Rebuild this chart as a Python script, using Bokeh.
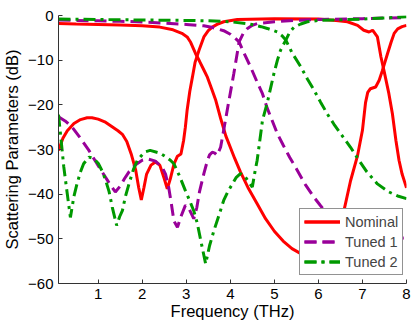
from bokeh.plotting import figure
from bokeh.models import Range1d, FixedTicker, Legend, LegendItem
from bokeh.embed import file_html
from bokeh.resources import INLINE

# ---------------- data ----------------
nom_a_f = [0.1, 0.5, 1.0, 1.5, 2.0, 2.4, 2.7, 2.9, 3.02, 3.1, 3.21, 3.3, 3.4, 3.48, 3.58, 3.67,
           3.78, 3.9, 4.0, 4.1, 4.23, 4.4, 4.6, 4.8, 5.0, 5.2, 5.4, 5.6, 5.8, 6.0, 6.2, 6.4,
           6.58, 6.73, 6.89, 7.0, 7.07, 7.12, 7.18, 7.3, 7.38, 7.45, 7.57, 7.65, 7.72, 7.8, 7.9, 8.0]
nom_a_db = [-1.8, -1.9, -2.0, -2.1, -2.3, -2.6, -3.2, -4.0, -4.8, -6.0, -8.5, -10.2, -12.2, -13.8, -16.5, -19.0,
            -23.0, -27.0, -29.5, -32.0, -35.0, -38.5, -42.0, -45.5, -48.3, -50.5, -52.2, -53.3, -54.0, -53.5, -51.5, -48.5,
            -43.7, -37.0, -31.3, -25.7, -19.5, -17.2, -16.4, -16.0, -14.5, -12.4, -8.5, -6.0, -4.0, -3.0, -2.5, -2.2]

nom_b_f = [0.1, 0.2, 0.3, 0.45, 0.6, 0.75, 0.86, 1.0, 1.15, 1.3, 1.45, 1.55, 1.65, 1.75, 1.85, 1.92,
           1.98, 2.04, 2.1, 2.2, 2.3, 2.4, 2.5, 2.57, 2.64, 2.72, 2.8, 2.88, 2.94, 2.98, 3.02, 3.08,
           3.14, 3.2, 3.29, 3.4, 3.5, 3.59, 3.7, 3.85, 4.16, 5.0, 6.0, 6.4, 6.66, 6.89, 7.03, 7.15,
           7.23, 7.34, 7.42, 7.49, 7.6, 7.68, 7.76, 7.83, 7.9, 8.0]
nom_b_db = [-30.2, -27.5, -25.8, -24.2, -23.3, -22.9, -22.9, -23.2, -23.8, -24.8, -25.8, -26.6, -28.2, -31.0, -34.5, -38.5,
            -41.3, -38.5, -35.5, -33.5, -32.8, -33.5, -36.5, -38.8, -36.5, -33.3, -31.5, -31.0, -28.0, -25.0, -21.2, -17.0,
            -13.8, -10.5, -7.8, -4.8, -3.4, -2.6, -2.0, -1.4, -0.9, -0.7, -0.8, -1.1, -1.4, -2.2, -3.3, -3.7,
            -3.3, -4.8, -9.3, -12.4, -17.5, -22.0, -28.0, -32.4, -35.5, -38.6]

t1_a_f = [0.1, 0.5, 1.0, 1.5, 2.0, 2.64, 3.0, 3.4, 3.6, 3.85, 4.0, 4.1, 4.2, 4.3, 4.46, 4.6,
          4.73, 4.84, 4.95, 5.07, 5.2, 5.35, 5.5, 5.7, 5.9, 6.05, 6.2, 6.5, 6.8, 7.1, 7.5, 7.8, 8.0]
t1_a_db = [-1.0, -1.1, -1.2, -1.3, -1.45, -1.8, -2.0, -2.3, -2.7, -3.4, -4.2, -5.0, -5.9, -8.2, -11.5, -14.7,
           -17.5, -20.8, -23.5, -26.5, -29.0, -31.8, -34.3, -37.8, -40.7, -42.6, -44.4, -46.8, -48.3, -49.2, -49.7, -49.9, -49.8]

t1_b_f = [0.1, 0.25, 0.41, 0.6, 0.79, 0.95, 1.09, 1.25, 1.39, 1.5, 1.6, 1.7, 1.85, 2.0, 2.12, 2.3,
          2.45, 2.53, 2.6, 2.66, 2.72, 2.8, 2.88, 2.98, 3.06, 3.17, 3.24, 3.3, 3.4, 3.48, 3.53,
          3.59, 3.65, 3.7, 3.78, 3.85, 3.93, 3.97, 4.08, 4.2, 4.3, 4.39, 4.5, 4.61, 5.0, 5.5, 6.0, 7.0, 8.0]
t1_b_db = [-22.7, -23.6, -25.0, -27.5, -30.2, -32.8, -35.0, -37.5, -39.5, -38.2, -36.5, -35.0, -33.4, -32.4, -32.1, -32.6,
           -33.9, -35.5, -38.4, -42.0, -46.0, -47.4, -45.0, -42.5, -43.2, -45.5, -43.0, -39.5, -35.4, -32.5, -31.2,
           -30.6, -30.8, -31.3, -29.5, -25.7, -21.2, -19.0, -13.0, -5.9, -3.9, -2.9, -2.2, -1.8, -1.4, -1.1, -0.9, -0.7, -0.45]

t2_a_f = [0.1, 1.0, 2.0, 3.0, 3.5, 4.0, 4.46, 4.7, 4.84, 5.07, 5.17, 5.26, 5.4, 5.6, 5.75, 5.9,
          6.05, 6.2, 6.35, 6.51, 6.73, 6.92, 7.1, 7.34, 7.6, 7.8, 8.0]
t2_a_db = [-0.8, -0.9, -1.0, -1.1, -1.2, -1.4, -1.95, -2.5, -2.9, -3.7, -4.5, -5.5, -8.3, -11.5, -14.2, -16.7,
           -19.4, -22.0, -24.3, -26.5, -29.5, -32.4, -35.0, -37.7, -39.5, -40.4, -41.0]

t2_b_f = [0.1, 0.15, 0.22, 0.3, 0.37, 0.45, 0.52, 0.6, 0.67, 0.79, 0.9, 1.01, 1.1, 1.17, 1.25, 1.32,
          1.42, 1.49, 1.55, 1.62, 1.7, 1.8, 1.89, 2.05, 2.18, 2.4, 2.53, 2.64, 2.72, 2.85, 2.98, 3.08,
          3.17, 3.25, 3.33, 3.44, 3.53, 3.63, 3.74, 3.85, 3.95, 4.05, 4.13, 4.23, 4.33, 4.42, 4.5, 4.56,
          4.61, 4.67, 4.73, 4.84, 4.99, 5.07, 5.14, 5.26, 5.35, 5.45, 5.6, 5.75, 6.0, 7.0, 8.0]
t2_b_db = [-22.2, -27.0, -33.9, -40.0, -45.2, -40.5, -37.7, -35.0, -33.2, -31.7, -32.0, -33.2, -35.0, -36.9, -39.5, -42.9,
           -47.0, -45.0, -43.7, -40.5, -37.7, -34.5, -32.4, -30.6, -30.2, -30.8, -31.6, -32.4, -33.2, -36.0, -39.2, -41.5,
           -43.7, -46.5, -50.4, -55.6, -51.5, -48.1, -44.8, -41.4, -39.3, -37.7, -36.3, -35.4, -36.0, -37.3, -38.4, -35.0,
           -32.4, -28.0, -23.5, -19.5, -13.0, -10.0, -7.8, -5.5, -3.7, -2.6, -1.9, -1.4, -1.1, -0.8, -0.3]

series_names = ["Nominal", "Tuned 1", "Tuned 2"]
x_ticks = [1, 2, 3, 4, 5, 6, 7, 8]
y_ticks = [-60, -50, -40, -30, -20, -10, 0]
y_tick_labels = ["\u221260", "\u221250", "\u221240", "\u221230", "\u221220", "\u221210", "0"]

FONT = "Liberation Sans"

p = figure(width=415, height=324, output_backend="svg", toolbar_location=None,
           x_range=Range1d(0.1, 8), y_range=Range1d(-60, 0),
           min_border_left=58, min_border_right=9, min_border_top=15, min_border_bottom=41,
           x_axis_label="Frequency (THz)", y_axis_label="Scattering Parameters (dB)")
p.outline_line_color = None
p.grid.visible = False

for ax in (p.xaxis[0], p.yaxis[0]):
    ax.axis_line_color = "#333333"
    ax.major_tick_line_color = "#333333"
    ax.major_tick_in = 4
    ax.major_tick_out = 0
    ax.minor_tick_line_color = None
    ax.major_label_text_font = FONT
    ax.major_label_text_font_size = "15px"
    ax.major_label_text_color = "black"
    ax.axis_label_text_font = FONT
    ax.axis_label_text_font_size = "16.5px"
    ax.axis_label_text_font_style = "normal"
    ax.axis_label_text_color = "black"

p.xaxis[0].major_label_standoff = 5
p.xaxis[0].axis_label_standoff = 0
p.yaxis[0].major_label_standoff = 5
p.yaxis[0].axis_label_standoff = 4

p.xaxis[0].ticker = FixedTicker(ticks=x_ticks)
p.yaxis[0].ticker = FixedTicker(ticks=y_ticks)
p.yaxis[0].major_label_overrides = {t: l for t, l in zip(y_ticks, y_tick_labels)}

RED, PURPLE, GREEN = "#ff0000", "#990099", "#009900"

r1 = p.line(nom_a_f, nom_a_db, color=RED, line_width=3)
r2 = p.line(nom_b_f, nom_b_db, color=RED, line_width=3)
r3 = p.line(t1_a_f, t1_a_db, color=PURPLE, line_width=3, line_dash="12 6")
r4 = p.line(t1_b_f, t1_b_db, color=PURPLE, line_width=3, line_dash="12 6")
r5 = p.line(t2_a_f, t2_a_db, color=GREEN, line_width=3, line_dash="12 5 3 5")
r6 = p.line(t2_b_f, t2_b_db, color=GREEN, line_width=3, line_dash="12 5 3 5")

legend = Legend(items=[LegendItem(label=series_names[0], renderers=[r1, r2]),
                       LegendItem(label=series_names[1], renderers=[r3, r4]),
                       LegendItem(label=series_names[2], renderers=[r5, r6])],
                location=(241, 8), margin=0, padding=4, spacing=3,
                glyph_width=36, glyph_height=17, label_height=17, label_standoff=5,
                label_text_font=FONT, label_text_font_size="14.5px",
                border_line_color="#262626", border_line_width=1,
                background_fill_color="white", background_fill_alpha=1)
p.add_layout(legend, "center")

open("out.html", "w").write(file_html(p, INLINE))
